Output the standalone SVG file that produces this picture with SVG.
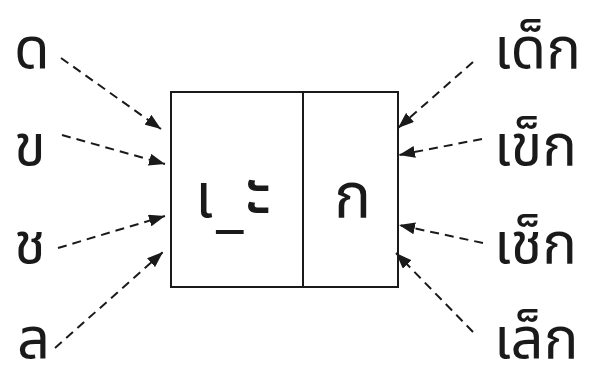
<svg xmlns="http://www.w3.org/2000/svg" width="589" height="369" viewBox="0 0 589 369">
<style>
text{font-family:"Noto Sans Thai","Noto Sans","DejaVu Sans",sans-serif;fill:#1a1a1a}
.lbl{font-size:58px}
.cell{font-size:62px}
.big{font-size:78px}
.box{fill:none;stroke:#1a1a1a;stroke-width:2}
.arr{stroke:#1a1a1a;stroke-width:2;stroke-dasharray:9 6;fill:none;marker-end:url(#ah)}
</style>
<defs>
<marker id="ah" markerUnits="userSpaceOnUse" markerWidth="16" markerHeight="12" refX="16" refY="6" orient="auto">
<path d="M0,0 L16,6 L0,12 z" fill="#1a1a1a"/>
</marker>
</defs>
<rect width="589" height="369" fill="#fff"/>
<g id="box">
<rect class="box" x="171" y="92" width="227" height="195"/>
<line class="box" x1="303" y1="92" x2="303" y2="287"/>
<text class="cell" y="217"><tspan x="195">เ</tspan><tspan x="216" y="224">_</tspan><tspan class="big" x="245" y="218">ะ</tspan></text>
<text class="cell" x="334" y="217">ก</text>
</g>
<g id="n-d"><text class="lbl" x="14" y="68">ด</text></g>
<g id="n-kh"><text class="lbl" x="14" y="165">ข</text></g>
<g id="n-ch"><text class="lbl" x="14" y="263">ช</text></g>
<g id="n-l"><text class="lbl" x="17" y="358">ล</text></g>
<g id="n-dek"><text class="lbl" x="494" y="68">เด็ก</text></g>
<g id="n-khek"><text class="lbl" x="494" y="165">เข็ก</text></g>
<g id="n-chek"><text class="lbl" x="494" y="263">เช็ก</text></g>
<g id="n-lek"><text class="lbl" x="494" y="358">เล็ก</text></g>
<g id="connectors">
<line class="arr" x1="61" y1="58" x2="161" y2="129"/>
<line class="arr" x1="62" y1="135" x2="165" y2="164"/>
<line class="arr" x1="58" y1="248" x2="165" y2="216"/>
<line class="arr" x1="55" y1="348" x2="163" y2="252"/>
<line class="arr" x1="473" y1="62" x2="398" y2="128"/>
<line class="arr" x1="482" y1="139" x2="399" y2="155"/>
<line class="arr" x1="483" y1="243" x2="399" y2="225"/>
<line class="arr" x1="473" y1="332" x2="396" y2="253"/>
</g>
</svg>
